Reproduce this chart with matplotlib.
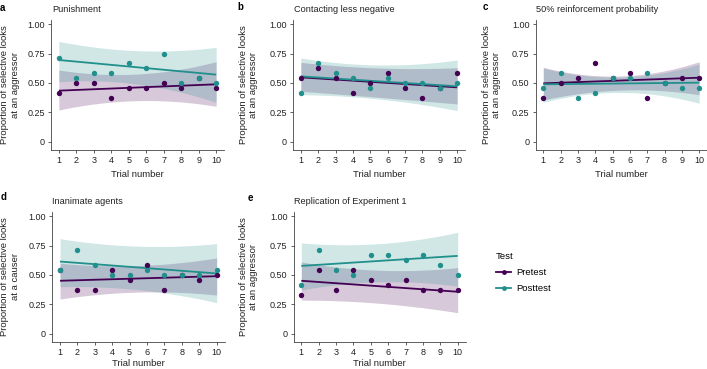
import numpy as np
import matplotlib
matplotlib.use("Agg")
import matplotlib.pyplot as plt
from matplotlib.lines import Line2D

plt.rcParams['font.family'] = ['Liberation Sans', 'DejaVu Sans']

trials = [1, 2, 3, 4, 5, 6, 7, 8, 9, 10]
band_x = [1, 5.5, 10]

# Panel a: Punishment
a_pre = [0.417, 0.5, 0.5, 0.375, 0.458, 0.458, 0.5, 0.458, 0.542, 0.458]
a_post = [0.708, 0.542, 0.583, 0.583, 0.667, 0.625, 0.75, 0.5, 0.542, 0.5]
a_pre_fit = [0.435, 0.489]
a_post_fit = [0.695, 0.571]
a_pre_lo = [0.271, 0.35, 0.302]
a_pre_hi = [0.61, 0.576, 0.681]
a_post_lo = [0.51, 0.49, 0.336]
a_post_hi = [0.853, 0.774, 0.802]

# Panel b: Contacting less negative
b_pre = [0.542, 0.625, 0.542, 0.417, 0.5, 0.583, 0.458, 0.375, 0.458, 0.583]
b_post = [0.417, 0.667, 0.583, 0.542, 0.458, 0.542, 0.5, 0.5, 0.458, 0.5]
b_pre_fit = [0.548, 0.463]
b_post_fit = [0.556, 0.472]
b_pre_lo = [0.43, 0.378, 0.322]
b_pre_hi = [0.675, 0.627, 0.63]
b_post_lo = [0.40, 0.364, 0.266]
b_post_hi = [0.712, 0.653, 0.695]

# Panel c: 50% reinforcement probability
c_pre = [0.375, 0.5, 0.542, 0.667, 0.542, 0.583, 0.375, 0.5, 0.542, 0.542]
c_post = [0.458, 0.583, 0.375, 0.417, 0.542, 0.542, 0.583, 0.5, 0.458, 0.458]
c_pre_fit = [0.497, 0.545]
c_post_fit = [0.489, 0.503]
c_pre_lo = [0.356, 0.44, 0.40]
c_pre_hi = [0.633, 0.56, 0.681]
c_post_lo = [0.336, 0.42, 0.328]
c_post_hi = [0.627, 0.55, 0.661]

# Panel d: Inanimate agents
d_pre = [0.542, 0.375, 0.375, 0.542, 0.458, 0.583, 0.375, 0.5, 0.458, 0.5]
d_post = [0.542, 0.708, 0.583, 0.5, 0.5, 0.542, 0.5, 0.5, 0.5, 0.542]
d_pre_fit = [0.451, 0.49]
d_post_fit = [0.614, 0.513]
d_pre_lo = [0.296, 0.355, 0.33]
d_pre_hi = [0.60, 0.58, 0.645]
d_post_lo = [0.40, 0.375, 0.265]
d_post_hi = [0.808, 0.744, 0.766]

# Panel e: Replication of Experiment 1
e_pre = [0.333, 0.542, 0.375, 0.542, 0.458, 0.417, 0.458, 0.375, 0.375, 0.375]
e_post = [0.417, 0.708, 0.542, 0.5, 0.667, 0.667, 0.625, 0.667, 0.583, 0.5]
e_pre_fit = [0.451, 0.358]
e_post_fit = [0.577, 0.662]
e_pre_lo = [0.287, 0.26, 0.18]
e_pre_hi = [0.611, 0.54, 0.563]
e_post_lo = [0.372, 0.442, 0.405]
e_post_hi = [0.772, 0.766, 0.862]

titles = ["Punishment", "Contacting less negative", "50% reinforcement probability",
          "Inanimate agents", "Replication of Experiment 1"]
letters = ["a", "b", "c", "d", "e"]
ylabels = ["Proportion of selective looks\nat an aggressor"] * 3 + \
          ["Proportion of selective looks\nat a causer", "Proportion of selective looks\nat an aggressor"]
yticks = [0, 0.25, 0.5, 0.75, 1.0]
yticklabels = ["0", "0.25", "0.50", "0.75", "1.00"]
legend_labels = ["Pretest", "Posttest"]

PRE = '#440154'
POST = '#21908C'

W, H = 707, 369
fig = plt.figure(figsize=(W / 100, H / 100), dpi=100)

def px_axes(left, top, right, bottom):
    return fig.add_axes([left / W, 1 - bottom / H, (right - left) / W, (bottom - top) / H])

# pixel boxes: left, top, right, bottom
boxes = [(51, 20, 224, 150), (293, 20, 465, 150), (535.5, 20, 707, 150),
         (52.2, 212, 224.5, 342), (293.5, 212, 465.5, 342)]
ylabel_x = [-0.237, -0.256, -0.259, -0.245, -0.26]
xlabel_y = [-0.185, -0.185, -0.185, -0.165, -0.165]
title_pos = [(52, 10), (294, 10), (536, 10), (52, 202), (294, 202)]
letter_pos = [(0, 8), (237, 7), (483, 7), (1, 197), (248, 198)]

panels = [
    (a_pre, a_post, a_pre_fit, a_post_fit, a_pre_lo, a_pre_hi, a_post_lo, a_post_hi),
    (b_pre, b_post, b_pre_fit, b_post_fit, b_pre_lo, b_pre_hi, b_post_lo, b_post_hi),
    (c_pre, c_post, c_pre_fit, c_post_fit, c_pre_lo, c_pre_hi, c_post_lo, c_post_hi),
    (d_pre, d_post, d_pre_fit, d_post_fit, d_pre_lo, d_pre_hi, d_post_lo, d_post_hi),
    (e_pre, e_post, e_pre_fit, e_post_fit, e_pre_lo, e_pre_hi, e_post_lo, e_post_hi),
]

xs = np.linspace(1, 10, 100)

def smooth(vals):
    coef = np.polyfit(band_x, vals, 2)
    return np.polyval(coef, xs)

for i, (pre, post, pfit, qfit, plo, phi, qlo, qhi) in enumerate(panels):
    ax = px_axes(*boxes[i])
    # bands
    ax.fill_between(xs, smooth(plo), smooth(phi), color=PRE, alpha=0.21, lw=0)
    ax.fill_between(xs, smooth(qlo), smooth(qhi), color=POST, alpha=0.21, lw=0)
    # fit lines
    ax.plot([trials[0], trials[-1]], pfit, color=PRE, lw=1.3, solid_capstyle='butt')
    ax.plot([trials[0], trials[-1]], qfit, color=POST, lw=1.3, solid_capstyle='butt')
    # points
    ax.scatter(trials, pre, s=15, color=PRE, lw=0, zorder=3)
    ax.scatter(trials, post, s=15, color=POST, lw=0, zorder=4)

    ax.set_xlim(0.55, 10.45)
    ax.set_ylim(-0.068, 1.034)
    ax.set_xticks(trials)
    ax.set_yticks(yticks)
    ax.set_yticklabels(yticklabels)
    for s in ['top', 'right']:
        ax.spines[s].set_visible(False)
    for s in ['left', 'bottom']:
        ax.spines[s].set_color('#444444')
        ax.spines[s].set_linewidth(0.6)
    ax.tick_params(axis='both', length=2.2, width=0.6, color='#444444',
                   labelsize=6.5, labelcolor='#222222', pad=2.2)
    ax.set_xlabel("Trial number", fontsize=6.8, color='#222222')
    ax.xaxis.label.set_va('center')
    ax.xaxis.set_label_coords(0.5, xlabel_y[i])
    ax.set_ylabel(ylabels[i], fontsize=6.8, color='#222222', linespacing=1.15)
    ax.yaxis.label.set_va('center')
    ax.yaxis.set_label_coords(ylabel_x[i], 0.5)

    tx, ty = title_pos[i]
    fig.text(tx / W, 1 - ty / H, titles[i], fontsize=6.6, ha='left', va='center', color='#222222')
    lx, ly = letter_pos[i]
    fig.text(lx / W, 1 - ly / H, letters[i], fontsize=7, fontweight='bold', ha='left', va='center')

handles = [Line2D([0], [0], color=PRE, lw=1.3, marker='o', markersize=3.5, markeredgewidth=0),
           Line2D([0], [0], color=POST, lw=1.3, marker='o', markersize=3.5, markeredgewidth=0)]
leg = fig.legend(handles, legend_labels, title="Test", loc='upper left',
                 bbox_to_anchor=(496 / W, 1 - 252 / H), frameon=False, fontsize=6.8,
                 title_fontsize=6.8, handlelength=1.6, handletextpad=0.5,
                 labelspacing=0.75, borderpad=0, borderaxespad=0, alignment='left')

fig.savefig("out.png", dpi=100)
